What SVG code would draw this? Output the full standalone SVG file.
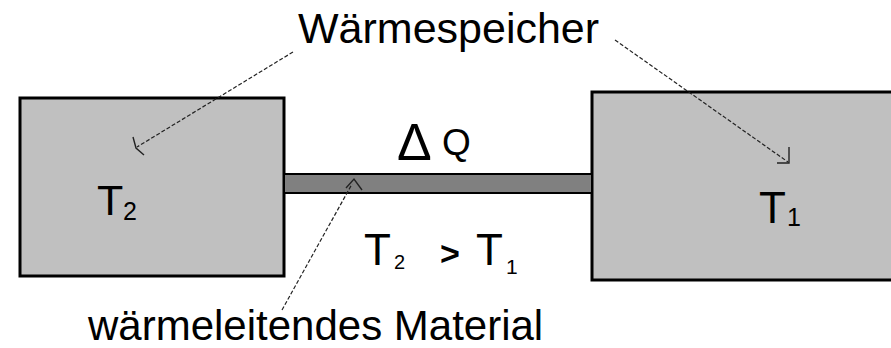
<svg xmlns="http://www.w3.org/2000/svg" width="891" height="348" viewBox="0 0 891 348">
<style>
.box{fill:#c0c0c0;stroke:#000;stroke-width:3}
.bar{fill:#808080;stroke:#000;stroke-width:2}
.t{font-family:"Liberation Sans",Arial,sans-serif;fill:#000}
.lead{fill:none;stroke:#222;stroke-width:1.2;stroke-dasharray:4 2}
.head{fill:none;stroke:#222;stroke-width:1.4}
</style>
<rect width="891" height="348" fill="#fff"/>
<g id="speicher-links">
<rect class="box" x="20" y="98" width="264" height="178"/>
<text class="t" x="97" y="215" font-size="43">T</text>
<text class="t" x="123" y="220" font-size="25">2</text>
</g>
<g id="speicher-rechts">
<rect class="box" x="592" y="92" width="305" height="188"/>
<text class="t" x="759" y="223" font-size="44">T</text>
<text class="t" x="787" y="226" font-size="25">1</text>
</g>
<g id="material">
<rect class="bar" x="284" y="174" width="308" height="19"/>
</g>
<g id="labels">
<text class="t" x="298" y="43" font-size="43">Wärmespeicher</text>
<text class="t" x="397" y="160" font-size="52">Δ</text>
<text class="t" x="442" y="155" font-size="37">Q</text>
<text class="t" x="364" y="265" font-size="44">T</text>
<text class="t" x="394" y="269" font-size="20">2</text>
<text class="t" x="440" y="265" font-size="34" font-weight="bold">&gt;</text>
<text class="t" x="476" y="265" font-size="44">T</text>
<text class="t" x="506" y="274" font-size="21">1</text>
<text class="t" x="88" y="340" font-size="42">wärmeleitendes Material</text>
</g>
<g id="connectors">
<line class="lead" x1="293" y1="52" x2="137" y2="147"/>
<polyline class="head" points="133,137 136,148 144,155"/>
<line class="lead" x1="615" y1="40" x2="788" y2="162"/>
<polyline class="head" points="789,147 789,163 777,163"/>
<line class="lead" x1="282" y1="310" x2="352" y2="184"/>
<polyline class="head" points="346,188 354,179 362,190"/>
</g>
</svg>
